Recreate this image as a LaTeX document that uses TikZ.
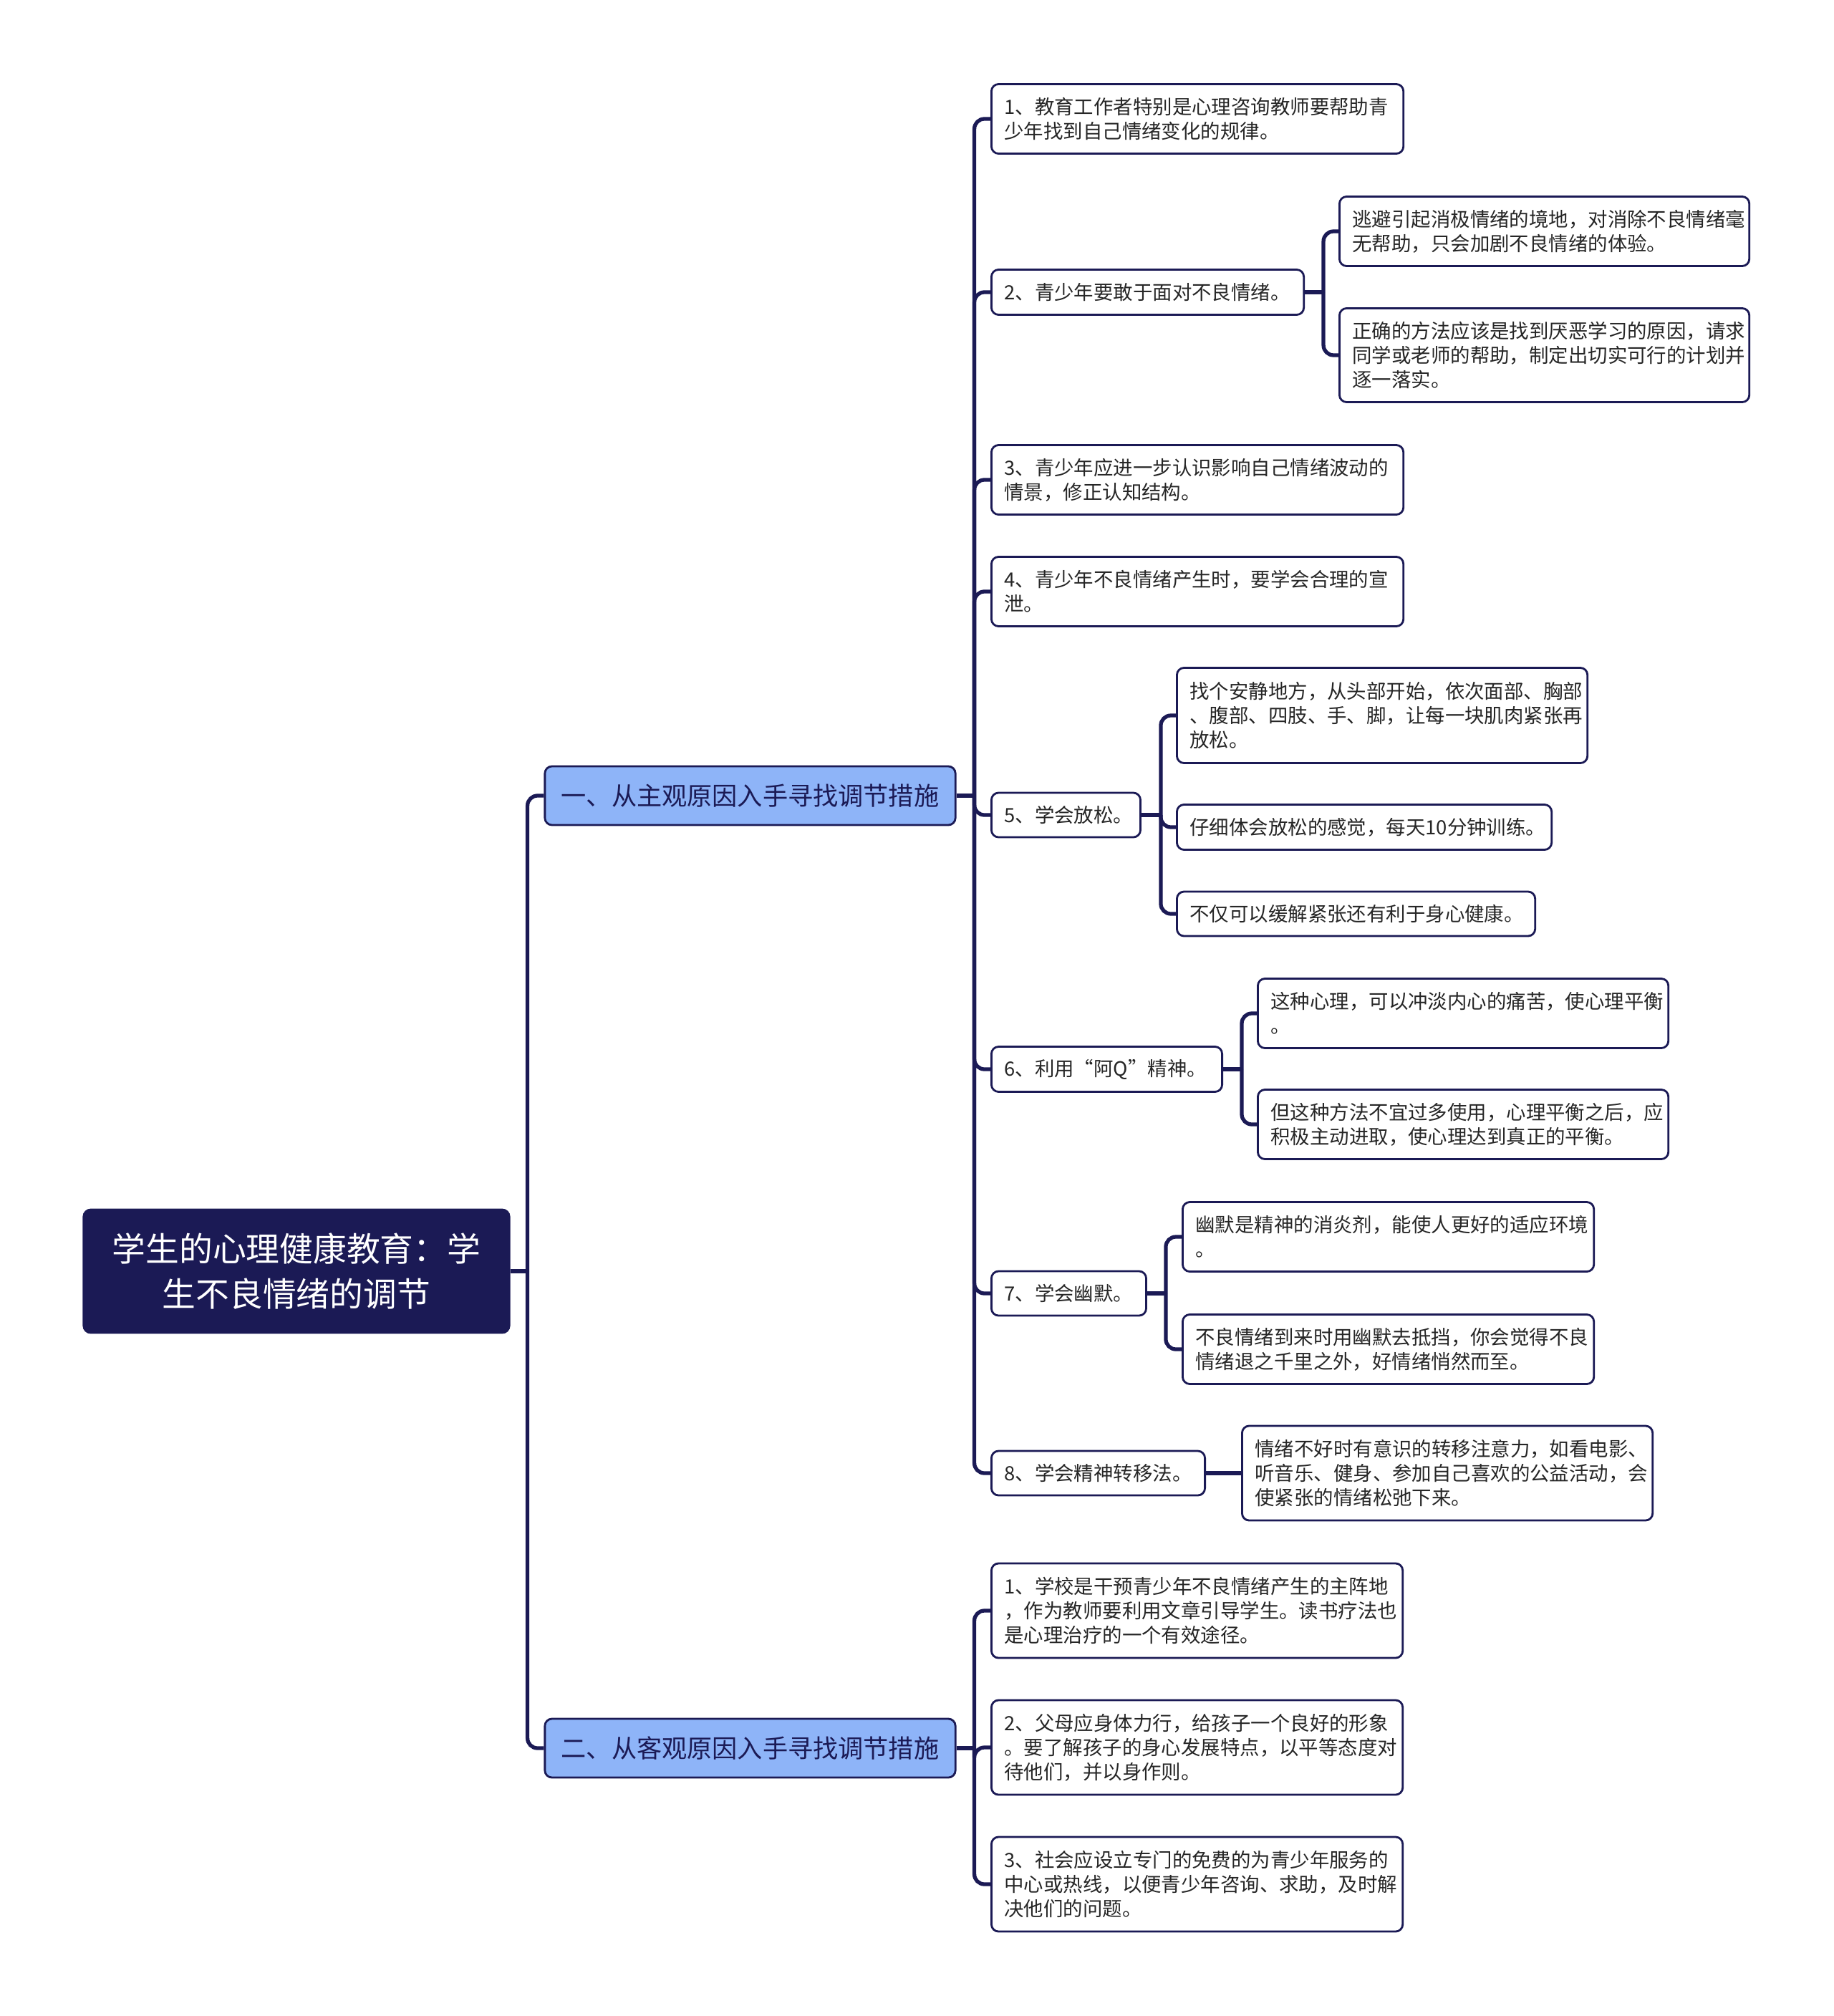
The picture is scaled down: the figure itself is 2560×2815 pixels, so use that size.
\documentclass[tikz,border=0pt]{standalone}
\usepackage{fontspec}
\setmainfont{Noto Sans CJK SC}
\usepackage{tikz}
\usetikzlibrary{positioning, calc}

\definecolor{navy}{HTML}{1B1A55}
\definecolor{skyfill}{HTML}{8EB4F8}

\tikzset{
  rootbox/.style={draw=navy, fill=navy, text=white, rounded corners=0.1cm, line width=0.8pt,
    align=center, minimum width=5.94cm, minimum height=1.72cm, inner sep=0pt,
    font=\fontsize{13.3pt}{17.9pt}\selectfont},
  subbox/.style={draw=navy, fill=skyfill, text=navy, rounded corners=0.1cm, line width=0.8pt,
    align=center, minimum width=5.73cm, minimum height=0.82cm, inner sep=0pt,
    font=\fontsize{10pt}{12pt}\selectfont},
  leaf/.style={draw=navy, fill=white, text=black!85, rounded corners=0.1cm, line width=0.8pt,
    align=left, anchor=west, inner xsep=0.18cm, inner ysep=0pt,
    font=\fontsize{7.8pt}{9.7pt}\selectfont},
  link/.style={draw=navy, line width=1.5pt, rounded corners=0.14cm},
}

\begin{document}
\begin{tikzpicture}[x=0.01cm, y=-0.01cm]
  \fill[white] (0,0) rectangle (2560,2815);
  \useasboundingbox (0,0) rectangle (2560,2815);

  % root and the two main branches
  \node[rootbox] (root) at (414,1775) {学生的心理健康教育：学\\生不良情绪的调节};
  \node[subbox] (sA) at (1047.5,1111) {一、从主观原因入手寻找调节措施};
  \node[subbox] (sB) at (1047.5,2441) {二、从客观原因入手寻找调节措施};

  % branch one
  \node[leaf, text width=5.39cm, minimum height=0.97cm] (a1) at (1383,166) {1、教育工作者特别是心理咨询教师要帮助青\\少年找到自己情绪变化的规律。};
  \node[leaf, text width=4.00cm, minimum height=0.63cm] (a2) at (1383,408) {2、青少年要敢于面对不良情绪。};
  \node[leaf, text width=5.39cm, minimum height=0.97cm] (a3) at (1383,670) {3、青少年应进一步认识影响自己情绪波动的\\情景，修正认知结构。};
  \node[leaf, text width=5.39cm, minimum height=0.97cm] (a4) at (1383,826) {4、青少年不良情绪产生时，要学会合理的宣\\泄。};
  \node[leaf, text width=1.72cm, minimum height=0.62cm] (a5) at (1383,1138) {5、学会放松。};
  \node[leaf, text width=2.86cm, minimum height=0.63cm] (a6) at (1383,1493) {6、利用“阿Q”精神。};
  \node[leaf, text width=1.80cm, minimum height=0.62cm] (a7) at (1383,1806) {7、学会幽默。};
  \node[leaf, text width=2.62cm, minimum height=0.62cm] (a8) at (1383,2057) {8、学会精神转移法。};

  \node[leaf, text width=5.36cm, minimum height=0.97cm] (b1) at (1869,323) {逃避引起消极情绪的境地，对消除不良情绪毫\\无帮助，只会加剧不良情绪的体验。};
  \node[leaf, text width=5.36cm, minimum height=1.31cm] (b2) at (1869,496) {正确的方法应该是找到厌恶学习的原因，请求\\同学或老师的帮助，制定出切实可行的计划并\\逐一落实。};

  \node[leaf, text width=5.37cm, minimum height=1.33cm] (c1) at (1642,999) {找个安静地方，从头部开始，依次面部、胸部\\、腹部、四肢、手、脚，让每一块肌肉紧张再\\放松。};
  \node[leaf, text width=4.87cm, minimum height=0.63cm] (c2) at (1642,1155) {仔细体会放松的感觉，每天10分钟训练。};
  \node[leaf, text width=4.64cm, minimum height=0.62cm] (c3) at (1642,1276) {不仅可以缓解紧张还有利于身心健康。};

  \node[leaf, text width=5.37cm, minimum height=0.97cm] (d1) at (1755,1415) {这种心理，可以冲淡内心的痛苦，使心理平衡\\。};
  \node[leaf, text width=5.37cm, minimum height=0.97cm] (d2) at (1755,1570) {但这种方法不宜过多使用，心理平衡之后，应\\积极主动进取，使心理达到真正的平衡。};

  \node[leaf, text width=5.38cm, minimum height=0.97cm] (e1) at (1650,1727) {幽默是精神的消炎剂，能使人更好的适应环境\\。};
  \node[leaf, text width=5.38cm, minimum height=0.97cm] (e2) at (1650,1884) {不良情绪到来时用幽默去抵挡，你会觉得不良\\情绪退之千里之外，好情绪悄然而至。};

  \node[leaf, text width=5.37cm, minimum height=1.32cm] (f1) at (1733,2057) {情绪不好时有意识的转移注意力，如看电影、\\听音乐、健身、参加自己喜欢的公益活动，会\\使紧张的情绪松弛下来。};

  % branch two
  \node[leaf, text width=5.38cm, minimum height=1.32cm] (g1) at (1383,2249) {1、学校是干预青少年不良情绪产生的主阵地\\，作为教师要利用文章引导学生。读书疗法也\\是心理治疗的一个有效途径。};
  \node[leaf, text width=5.38cm, minimum height=1.32cm] (g2) at (1383,2440) {2、父母应身体力行，给孩子一个良好的形象\\。要了解孩子的身心发展特点，以平等态度对\\待他们，并以身作则。};
  \node[leaf, text width=5.38cm, minimum height=1.32cm] (g3) at (1383,2631) {3、社会应设立专门的免费的为青少年服务的\\中心或热线，以便青少年咨询、求助，及时解\\决他们的问题。};

  % connectors
  \draw[link] (root.east) -- ++(24,0) coordinate (r0);
  \foreach \c in {sA,sB} \draw[link] (r0) |- (\c.west);

  \draw[link] (sA.east) -- ++(25,0) coordinate (rA);
  \foreach \c in {a1,a2,a3,a4,a5,a6,a7,a8} \draw[link] (rA) |- (\c.west);

  \draw[link] (sB.east) -- ++(25,0) coordinate (rB);
  \foreach \c in {g1,g2,g3} \draw[link] (rB) |- (\c.west);

  \draw[link] (a2.east) -- ++(26,0) coordinate (r2);
  \foreach \c in {b1,b2} \draw[link] (r2) |- (\c.west);

  \draw[link] (a5.east) -- ++(27,0) coordinate (r5);
  \foreach \c in {c1,c2,c3} \draw[link] (r5) |- (\c.west);

  \draw[link] (a6.east) -- ++(26,0) coordinate (r6);
  \foreach \c in {d1,d2} \draw[link] (r6) |- (\c.west);

  \draw[link] (a7.east) -- ++(26,0) coordinate (r7);
  \foreach \c in {e1,e2} \draw[link] (r7) |- (\c.west);

  \draw[link] (a8.east) -- (f1.west);
\end{tikzpicture}
\end{document}
